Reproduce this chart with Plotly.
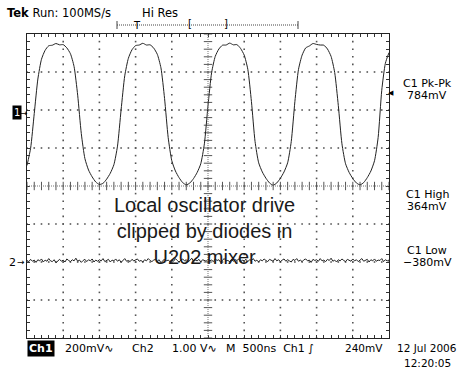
import numpy as np
import plotly.graph_objects as go

# ---------------- data ----------------
time_div = [round(i * 0.1, 2) for i in range(101)]  # horizontal divisions (500 ns/div)
ch1_mv = [-276, -185, -3, 179, 283, 330, 354, 357, 366, 359,
          360, 343, 312, 245, 94, -108, -240, -300, -336, -363,
          -376, -370, -348, -317, -272, -174, 18, 196, 288, 333,
          355, 358, 367, 358, 359, 342, 309, 238, 77, -129,
          -251, -305, -340, -366, -378, -368, -345, -313, -267, -162,
          39, 213, 298, 337, 357, 358, 368, 359, 360, 340,
          305, 230, 60, -150, -262, -310, -343, -368, -380, -368,
          -343, -310, -262, -150, 60, 230, 305, 343, 353, 366,
          361, 358, 357, 337, 298, 213, 39, -162, -267, -313,
          -345, -368, -378, -366, -340, -305, -251, -129, 120, 262, 318]
time2_div = [round(i * 0.05, 3) for i in range(201)]
ch2_mv = [40, 10, 70, 20, 50, -10, 60, 30, 80, 0, 50, 20, 90, 30, 10, 60, -20, 40, 70, 20,
          50, 0, 80, 40, 10, 60, 30, 100, 20, 50, -10, 40, 70, 10, 60, 30, 80, 0, 50, 20,
          60, 30, 90, 10, 40, 70, 0, 50, 30, 80, 20, 60, -10, 50, 90, 20, 40, 10, 70, 30,
          50, 80, 20, 40, 0, 60, 30, 90, 40, 10, 50, 70, 20, 60, -20, 40, 80, 30, 50, 10,
          60, 20, 90, 40, 0, 50, 80, 30, 60, 10, 40, 100, 20, 50, 30, 70, 0, 60, 40, 20,
          70, 30, 50, 10, 80, 40, 60, -10, 50, 90, 30, 40, 10, 70, 20, 60, 40, 80, 0, 50,
          30, 70, 10, 60, 40, 90, 20, 50, 0, 60, 30, 80, 40, 10, 70, 50, 20, 90, 30, 60,
          10, 50, 80, 20, 60, 30, 0, 70, 40, 90, 20, 50, 10, 60, 80, 30, 50, -10, 70, 40,
          60, 20, 90, 30, 50, 10, 70, 40, 100, 20, 50, 0, 60, 30, 80, 40, 10, 70, 50, 20,
          80, 30, 60, 10, 50, 90, 20, 40, 70, 0, 60, 30, 80, 20, 50, 40, 90, 10, 60, 30, 50]

ch1_scale_mv = 200.0   # mV/div
ch1_pos_div = 1.92
ch2_scale_mv = 1000.0  # 1.00 V/div
ch2_pos_div = -2.0

measure_labels = ["C1 Pk-Pk", "C1 High", "C1 Low"]
measure_values = ["784mV", "364mV", "\u2212380mV"]
annotation_lines = ["Local oscillator drive", "clipped by diodes in", "U202 mixer"]

# ---------------- geometry ----------------
W, H = 461, 371
L, R, T, B = 27, 389, 34, 338


def px(x):
    return (x - L) / (R - L)


def py(y):
    return (B - y) / (B - T)


FONT = "DejaVu Sans"
GRID = "#555555"
INK = "#1a1a1a"

fig = go.Figure()

# grid dots (every 0.2 div along each major division line, excluding centre lines)
gx, gy = [], []
minor = np.round(np.arange(0, 10.001, 0.2), 3)
minor_y = np.round(np.arange(-4, 4.001, 0.2), 3)
for xv in range(1, 10):
    if xv == 5:
        continue
    gx += [xv] * len(minor_y)
    gy += list(minor_y)
for yv in range(-3, 4):
    if yv == 0:
        continue
    gx += list(minor)
    gy += [yv] * len(minor)
fig.add_trace(go.Scatter(x=gx, y=gy, mode="markers", hoverinfo="skip",
                         marker=dict(symbol="square", size=1.6, color=GRID, line=dict(width=0))))

# centre lines with ticks
fig.add_shape(type="line", x0=0, x1=10, y0=0, y1=0, line=dict(color="#777", width=1, dash="1px,1px"))
fig.add_shape(type="line", x0=5, x1=5, y0=-4, y1=4, line=dict(color="#777", width=1, dash="1px,1px"))
fig.add_trace(go.Scatter(x=list(minor), y=[0] * len(minor), mode="markers", hoverinfo="skip",
                         marker=dict(symbol="line-ns", size=6, color=GRID, line=dict(width=1, color=GRID))))
fig.add_trace(go.Scatter(x=[5] * len(minor_y), y=list(minor_y), mode="markers", hoverinfo="skip",
                         marker=dict(symbol="line-ew", size=6, color=GRID, line=dict(width=1, color=GRID))))

# traces
y1 = [ch1_pos_div + v / ch1_scale_mv for v in ch1_mv]
y2 = [ch2_pos_div + v / ch2_scale_mv for v in ch2_mv]
fig.add_trace(go.Scatter(x=time_div, y=y1, mode="lines", line=dict(color="#222", width=1, shape="spline", smoothing=0.6),
                         hoverinfo="skip"))
fig.add_trace(go.Scatter(x=time2_div, y=y2, mode="lines", line=dict(color="#222", width=1), hoverinfo="skip"))

ann = []


def text(x, y, s, size=11, anchor="left", color="black", family=FONT, **kw):
    ann.append(dict(x=px(x), y=py(y), xref="paper", yref="paper", text=s, showarrow=False,
                    xanchor=anchor, yanchor="middle", font=dict(family=family, size=size, color=color), **kw))


# top status
text(5, 13, "<b>Tek</b> Run: 100MS/s", size=11.5)
text(140, 13, "Hi Res", size=11.5)
fig.add_shape(type="line", xref="paper", yref="paper", x0=px(117), x1=px(298), y0=py(25), y1=py(25),
              line=dict(color="#444", width=1, dash="1px,1px"))
for xe in (117, 298):
    fig.add_shape(type="line", xref="paper", yref="paper", x0=px(xe), x1=px(xe), y0=py(21), y1=py(29),
                  line=dict(color="#444", width=1))
text(137, 25, "T", size=10, anchor="center")
text(190, 24, "[", size=10, anchor="center")
text(226, 24, "]", size=10, anchor="center")

# channel markers
text(17, 113, "1", size=10, anchor="center", color="white", bgcolor="black", borderpad=1)
text(24, 113, "\u2192", size=9, anchor="center")
text(12, 262, "2", size=11, anchor="center")
text(21, 262, "\u2192", size=9, anchor="center")
text(391, 93, "\u25c0", size=7, anchor="center")

# measurements
for lbl, val, yc in zip(measure_labels, measure_values, (83, 194, 250)):
    text(427, yc, lbl, size=11, anchor="center")
    text(427, yc + 12, val, size=11, anchor="center")

# bottom status
text(41, 348, "<b>Ch1</b>", size=11, anchor="center", color="white", bgcolor="black", borderpad=1)
text(63, 348, "200mV\u223f", size=11)
text(130, 348, "Ch2", size=11)
text(170, 348, "1.00 V\u223f", size=11)
text(224, 348, "M  500ns  Ch1 \u222b", size=11)
text(343, 348, "240mV", size=10.5)
text(427, 348, "12 Jul 2006", size=10.5, anchor="center")
text(427, 363, "12:20:05", size=10.5, anchor="center")

# overlay annotation
ann.append(dict(x=px(204), y=py(231), xref="paper", yref="paper", text="<br>".join(annotation_lines),
                showarrow=False, xanchor="center", yanchor="middle", align="center",
                font=dict(family="Liberation Sans", size=20, color=INK)))

fig.update_layout(
    width=W, height=H, margin=dict(l=L, r=W - R, t=T, b=H - B),
    paper_bgcolor="white", plot_bgcolor="white", showlegend=False,
    annotations=ann,
    xaxis=dict(range=[0, 10], showgrid=False, zeroline=False, showticklabels=False,
               ticks="inside", dtick=0.2, tick0=0, ticklen=3, tickcolor="#333",
               showline=True, linecolor="#222", linewidth=1, mirror="ticks"),
    yaxis=dict(range=[-4, 4], showgrid=False, zeroline=False, showticklabels=False,
               ticks="inside", dtick=0.2, tick0=0, ticklen=3, tickcolor="#333",
               showline=True, linecolor="#222", linewidth=1, mirror="ticks"),
)
fig.write_html("out.html")
